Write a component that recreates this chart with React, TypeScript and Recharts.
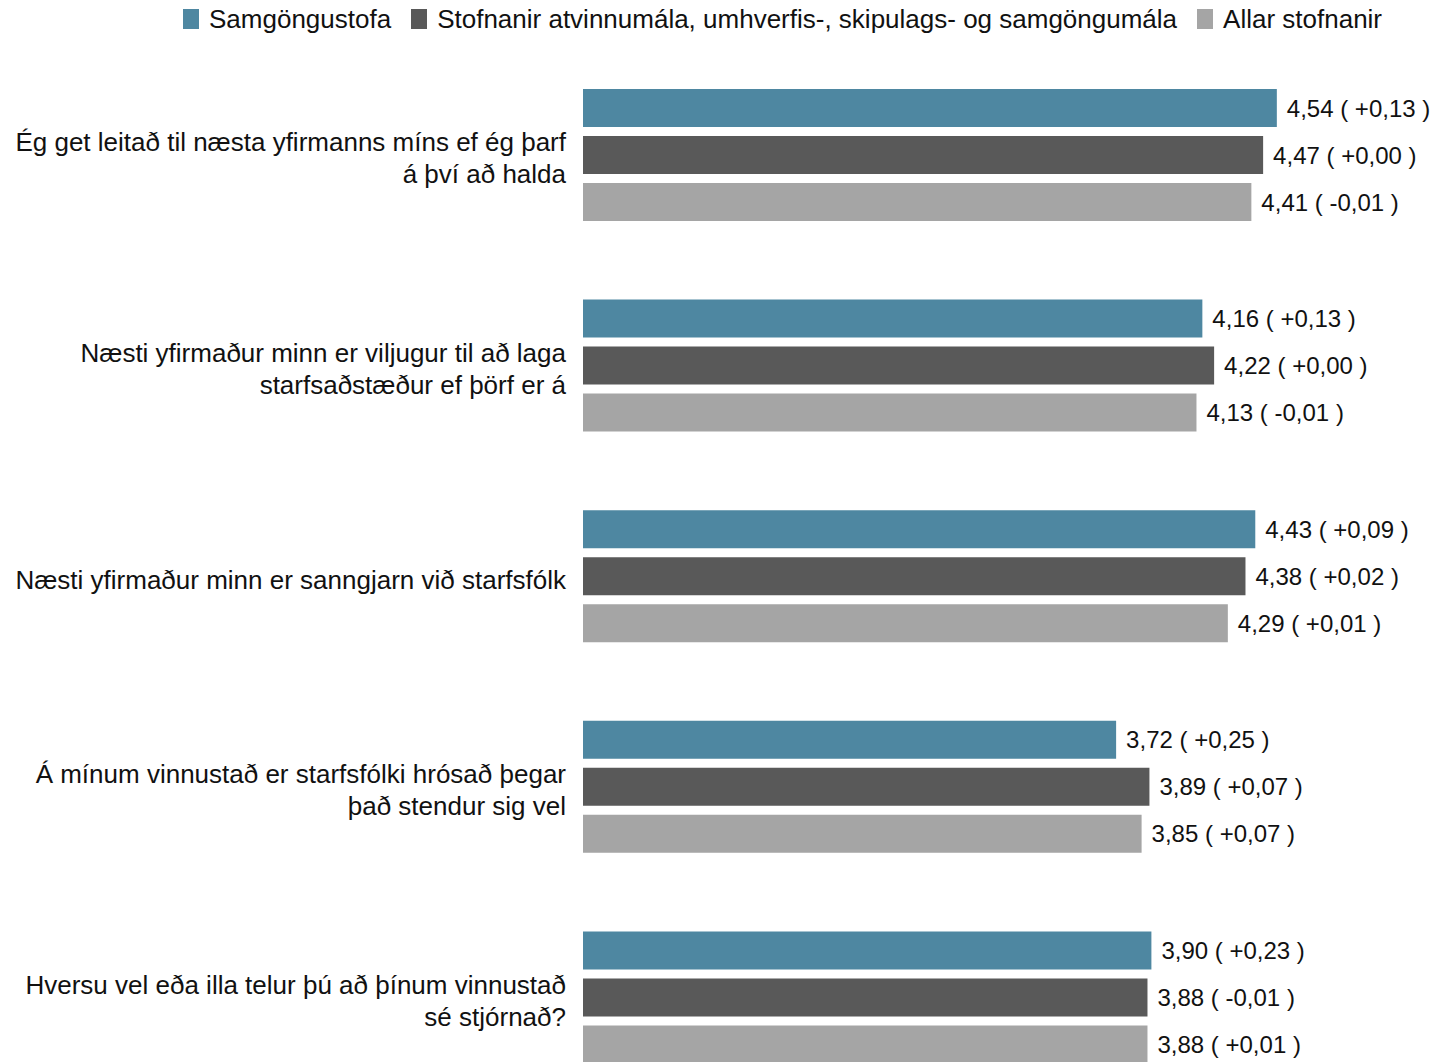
import React from "react";
import { BarChart, Bar, XAxis, YAxis, Legend, LabelList } from "recharts";

// Spurningar (lines as they wrap in the original)
const questionLines: string[][] = [
  ["Ég get leitað til næsta yfirmanns míns ef ég þarf", "á því að halda"],
  ["Næsti yfirmaður minn er viljugur til að laga", "starfsaðstæður ef þörf er á"],
  ["Næsti yfirmaður minn er sanngjarn við starfsfólk"],
  ["Á mínum vinnustað er starfsfólki hrósað þegar", "það stendur sig vel"],
  ["Hversu vel eða illa telur þú að þínum vinnustað", "sé stjórnað?"],
];

const seriesNames = [
  "Samgöngustofa",
  "Stofnanir atvinnumála, umhverfis-, skipulags- og samgöngumála",
  "Allar stofnanir",
];
const seriesColors = ["#4e87a1", "#595959", "#a5a5a5"];

const samgongustofa = [4.54, 4.16, 4.43, 3.72, 3.9];
const samgongustofaChange = [0.13, 0.13, 0.09, 0.25, 0.23];
const stofnanirRaduneytis = [4.47, 4.22, 4.38, 3.89, 3.88];
const stofnanirRaduneytisChange = [0.0, 0.0, 0.02, 0.07, -0.01];
const allarStofnanir = [4.41, 4.13, 4.29, 3.85, 3.88];
const allarStofnanirChange = [-0.01, -0.01, 0.01, 0.07, 0.01];

const FONT = '"Liberation Sans", Arial, Helvetica, sans-serif';
const TEXT = "#111";

const fmt = (v: number) => v.toFixed(2).replace(".", ",");
const fmtChange = (v: number) => (v < 0 ? "-" : "+") + fmt(Math.abs(v));
const label = (v: number, c: number) => `${fmt(v)} ( ${fmtChange(c)} )`;

const data = questionLines.map((lines, i) => ({
  name: lines.join(" "),
  s1: samgongustofa[i],
  s2: stofnanirRaduneytis[i],
  s3: allarStofnanir[i],
  l1: label(samgongustofa[i], samgongustofaChange[i]),
  l2: label(stofnanirRaduneytis[i], stofnanirRaduneytisChange[i]),
  l3: label(allarStofnanir[i], allarStofnanirChange[i]),
}));

const QuestionTick = (props: any) => {
  const { x, y, index } = props;
  const lines = questionLines[index] || [];
  const lh = 32;
  const start = y + 3 - ((lines.length - 1) * lh) / 2;
  return (
    <g>
      {lines.map((line, i) => (
        <text
          key={i}
          x={x}
          y={start + i * lh}
          dy={9}
          textAnchor="end"
          fontSize={26}
          fontFamily={FONT}
          fill={TEXT}
        >
          {line}
        </text>
      ))}
    </g>
  );
};

const LegendContent = () => (
  <div
    style={{
      display: "flex",
      alignItems: "center",
      paddingLeft: 183,
      paddingTop: 7,
      height: 50,
      boxSizing: "border-box",
      transform: "translateY(-10px)",
      fontFamily: FONT,
      fontSize: 26,
      lineHeight: "24px",
      color: TEXT,
    }}
  >
    {seriesNames.map((n, i) => (
      <div key={n} style={{ display: "flex", alignItems: "center", marginRight: 20 }}>
        <span
          style={{
            display: "inline-block",
            width: 16,
            height: 20,
            background: seriesColors[i],
            marginRight: 10,
          }}
        />
        <span>{n}</span>
      </div>
    ))}
  </div>
);

export default function App() {
  return (
    <div
      style={{
        position: "fixed",
        top: 0,
        left: 0,
        width: 1434,
        height: 1062,
        overflow: "hidden",
        background: "#fff",
      }}
    >
      <BarChart
        width={1434}
        height={1103}
        data={data}
        layout="vertical"
        margin={{ top: 0, right: 67, bottom: 0, left: 0 }}
        barSize={38}
        barGap={9}
      >
        <XAxis type="number" domain={[1, 5]} hide allowDataOverflow />
        <YAxis
          type="category"
          dataKey="name"
          width={583}
          axisLine={false}
          tickLine={false}
          tickSize={0}
          tickMargin={17}
          interval={0}
          tick={<QuestionTick />}
        />
        <Legend
          verticalAlign="top"
          align="left"
          wrapperStyle={{ left: 0, top: 0, width: 1434, height: 50 }}
          content={<LegendContent />}
        />
        {[
          ["s1", "l1"],
          ["s2", "l2"],
          ["s3", "l3"],
        ].map(([key, lab], i) => (
          <Bar
            key={key}
            dataKey={key}
            name={seriesNames[i]}
            fill={seriesColors[i]}
            isAnimationActive={false}
          >
            <LabelList
              dataKey={lab}
              position="right"
              offset={10}
              fontSize={24}
              fontFamily={FONT}
              fill={TEXT}
            />
          </Bar>
        ))}
      </BarChart>
    </div>
  );
}
